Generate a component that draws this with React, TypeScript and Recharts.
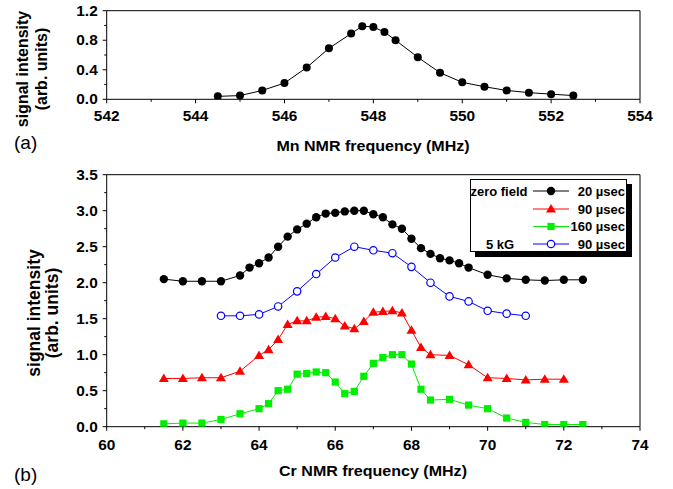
import { LineChart, Line, XAxis, YAxis } from "recharts";

const FONT = "'Liberation Sans', Arial, sans-serif";

// (a) Mn NMR spectrum
const mnFreq = [544.5, 545, 545.5, 546, 546.5, 547, 547.5, 547.75, 548, 548.25, 548.5, 549, 549.5, 550, 550.5, 551, 551.5, 552, 552.5];
const mnSignal = [0.04, 0.05, 0.12, 0.22, 0.43, 0.69, 0.89, 0.99, 0.98, 0.91, 0.8, 0.57, 0.36, 0.23, 0.17, 0.12, 0.09, 0.07, 0.05];

// (b) Cr NMR spectra
const crFreqZero20 = [61.5, 62, 62.5, 63, 63.5, 63.75, 64, 64.25, 64.5, 64.75, 65, 65.25, 65.5, 65.75, 66, 66.25, 66.5, 66.75, 67, 67.25, 67.5, 67.75, 68, 68.25, 68.5, 68.75, 69, 69.25, 69.5, 70, 70.5, 71, 71.5, 72, 72.5];
const crZero20 = [2.05, 2.02, 2.02, 2.02, 2.1, 2.21, 2.27, 2.35, 2.5, 2.64, 2.74, 2.82, 2.91, 2.96, 2.97, 2.99, 3.0, 3.0, 2.95, 2.91, 2.81, 2.75, 2.61, 2.48, 2.4, 2.34, 2.31, 2.27, 2.21, 2.11, 2.06, 2.04, 2.03, 2.04, 2.04];

const crFreqZero90 = [61.5, 62, 62.5, 63, 63.5, 64, 64.25, 64.5, 64.75, 65, 65.25, 65.5, 65.75, 66, 66.25, 66.5, 66.75, 67, 67.25, 67.5, 67.75, 68, 68.25, 68.5, 69, 69.5, 70, 70.5, 71, 71.5, 72];
const crZero90 = [0.67, 0.67, 0.68, 0.68, 0.77, 0.99, 1.07, 1.21, 1.42, 1.47, 1.47, 1.52, 1.53, 1.5, 1.4, 1.36, 1.46, 1.59, 1.6, 1.61, 1.58, 1.34, 1.1, 1.0, 0.99, 0.86, 0.68, 0.67, 0.65, 0.66, 0.66];

const crFreqZero160 = [61.5, 62, 62.5, 63, 63.5, 64, 64.25, 64.5, 64.75, 65, 65.25, 65.5, 65.75, 66, 66.25, 66.5, 66.75, 67, 67.25, 67.5, 67.75, 68, 68.25, 68.5, 69, 69.5, 70, 70.5, 71, 71.5, 72, 72.5];
const crZero160 = [0.04, 0.05, 0.05, 0.1, 0.18, 0.25, 0.32, 0.5, 0.52, 0.73, 0.74, 0.76, 0.75, 0.62, 0.46, 0.49, 0.7, 0.88, 0.96, 1.0, 1.0, 0.87, 0.52, 0.37, 0.38, 0.3, 0.25, 0.12, 0.06, 0.03, 0.03, 0.03];

const crFreq5kG90 = [63, 63.5, 64, 64.5, 65, 65.5, 66, 66.5, 67, 67.5, 68, 68.5, 69, 69.5, 70, 70.5, 71];
const cr5kG90 = [1.54, 1.54, 1.56, 1.67, 1.88, 2.12, 2.35, 2.5, 2.45, 2.41, 2.22, 2.0, 1.81, 1.74, 1.61, 1.57, 1.54];

const mnXTicks = [542, 543, 544, 545, 546, 547, 548, 549, 550, 551, 552, 553, 554];
const mnYTicks = [0, 0.2, 0.4, 0.6, 0.8, 1.0, 1.2];
const crXTicks = [60, 61, 62, 63, 64, 65, 66, 67, 68, 69, 70, 71, 72, 73, 74];
const crYTicks = [0, 0.25, 0.5, 0.75, 1.0, 1.25, 1.5, 1.75, 2.0, 2.25, 2.5, 2.75, 3.0, 3.25, 3.5];

const zip = (xs: number[], ys: number[]) => xs.map((f, i) => ({ f, v: ys[i] }));

const isMult = (v: number, step: number) =>
  Math.abs(v / step - Math.round(v / step)) < 1e-6;

// the original lettering is a bit wider than Liberation Sans
const SX = 1.1;

// draws its own tick mark (outward), label only on major ticks
const makeTick =
  (side: "bottom" | "top" | "left" | "right", step: number, label: boolean, off: number, digits: number) =>
  (p: any) => {
    const v = p.payload.value;
    const major = isMult(v, step);
    const len = major ? 4 : 2.5;
    const { x, y } = p;
    let l;
    if (side === "bottom") l = <line x1={x} x2={x} y1={y} y2={y + len} stroke="#000" />;
    else if (side === "top") l = <line x1={x} x2={x} y1={y} y2={y - len} stroke="#000" />;
    else if (side === "left") l = <line x1={x} x2={x - len} y1={y} y2={y} stroke="#000" />;
    else l = <line x1={x} x2={x + len} y1={y} y2={y} stroke="#000" />;
    let t = null;
    if (label && major) {
      const bottom = side === "bottom";
      const tx = bottom ? x : x - off;
      const ty = bottom ? y + off : y + 5;
      t = (
        <text
          transform={`translate(${tx},${ty}) scale(${SX},1)`}
          textAnchor={bottom ? "middle" : "end"}
          fontFamily={FONT}
          fontWeight="bold"
          fontSize={14}
          fill="#000"
        >
          {v.toFixed(digits)}
        </text>
      );
    }
    return (
      <g>
        {l}
        {t}
      </g>
    );
  };

const blackDot = (r: number) => (p: any) => <circle key={p.index} cx={p.cx} cy={p.cy} r={r} fill="#000" />;
const openDot = (p: any) => (
  <circle key={p.index} cx={p.cx} cy={p.cy} r={3.7} fill="#fff" stroke="#0000ff" strokeWidth={1.2} />
);
const triDot = (p: any) => (
  <polygon
    key={p.index}
    points={`${p.cx - 5},${p.cy + 3.5} ${p.cx + 5},${p.cy + 3.5} ${p.cx},${p.cy - 5}`}
    fill="#ff0000"
  />
);
const squareDot = (p: any) => <rect key={p.index} x={p.cx - 3.6} y={p.cy - 3.6} width={7.2} height={7.2} fill="#00ee00" />;

// axes need a non-zero size to be drawn, so they get 1px and the margins make up for it
const axisCommon = { tickSize: 0, tickMargin: 0, tickLine: false, interval: 0 as const, stroke: "#000" };

export default function App() {
  return (
    <div style={{ position: "absolute", left: 0, top: 0, width: 673, height: 489, background: "#fff" }}>
      <div style={{ position: "absolute", left: 0, top: 0 }}>
        <LineChart width={673} height={160} margin={{ top: 9.7, right: 32, bottom: 59.7, left: 105.7 }}>
          <XAxis
            {...axisCommon}
            dataKey="f"
            type="number"
            domain={[542, 554]}
            ticks={mnXTicks}
            height={1}
            allowDataOverflow
            tick={makeTick("bottom", 2, true, 22, 0)}
          />
          <XAxis
            {...axisCommon}
            xAxisId="top"
            orientation="top"
            type="number"
            domain={[542, 554]}
            ticks={mnXTicks}
            height={1}
            tick={makeTick("top", 2, false, 0, 0)}
          />
          <YAxis
            {...axisCommon}
            type="number"
            domain={[0, 1.2]}
            ticks={mnYTicks}
            width={1}
            allowDataOverflow
            tick={makeTick("left", 0.4, true, 9, 1)}
          />
          <YAxis
            {...axisCommon}
            yAxisId="right"
            orientation="right"
            type="number"
            domain={[0, 1.2]}
            ticks={mnYTicks}
            width={1}
            tick={makeTick("right", 0.4, false, 0, 1)}
          />
          <Line
            data={zip(mnFreq, mnSignal)}
            dataKey="v"
            type="linear"
            stroke="#000"
            strokeWidth={1}
            dot={blackDot(4)}
            activeDot={false}
            isAnimationActive={false}
          />
        </LineChart>
      </div>
      <div style={{ position: "absolute", left: 0, top: 160 }}>
        <LineChart width={673} height={329} margin={{ top: 13.7, right: 32, bottom: 61.3, left: 105.7 }}>
          <XAxis
            {...axisCommon}
            dataKey="f"
            type="number"
            domain={[60, 74]}
            ticks={crXTicks}
            height={1}
            allowDataOverflow
            tick={makeTick("bottom", 2, true, 23.5, 0)}
          />
          <XAxis
            {...axisCommon}
            xAxisId="top"
            orientation="top"
            type="number"
            domain={[60, 74]}
            ticks={crXTicks}
            height={1}
            tick={makeTick("top", 2, false, 0, 0)}
          />
          <YAxis
            {...axisCommon}
            type="number"
            domain={[0, 3.5]}
            ticks={crYTicks}
            width={1}
            allowDataOverflow
            tick={makeTick("left", 0.5, true, 9, 1)}
          />
          <YAxis
            {...axisCommon}
            yAxisId="right"
            orientation="right"
            type="number"
            domain={[0, 3.5]}
            ticks={crYTicks}
            width={1}
            tick={makeTick("right", 0.5, false, 0, 1)}
          />
          <Line data={zip(crFreqZero20, crZero20)} dataKey="v" stroke="#000" strokeWidth={1} dot={blackDot(4.2)} activeDot={false} isAnimationActive={false} />
          <Line data={zip(crFreq5kG90, cr5kG90)} dataKey="v" stroke="#0000ff" strokeWidth={1} dot={openDot} activeDot={false} isAnimationActive={false} />
          <Line data={zip(crFreqZero90, crZero90)} dataKey="v" stroke="#ff0000" strokeWidth={1} dot={triDot} activeDot={false} isAnimationActive={false} />
          <Line data={zip(crFreqZero160, crZero160)} dataKey="v" stroke="#00ee00" strokeWidth={1} dot={squareDot} activeDot={false} isAnimationActive={false} />
        </LineChart>
      </div>
      <svg width={673} height={489} style={{ position: "absolute", left: 0, top: 0, pointerEvents: "none" }} fontFamily={FONT}>
        {/* axis titles */}
        <g fontWeight="bold" fill="#000" textAnchor="middle">
          <text transform="translate(22.5,69) rotate(-90)" dominantBaseline="central" fontSize={16}>signal intensity</text>
          <text transform="translate(41.5,69) rotate(-90)" dominantBaseline="central" fontSize={16}>(arb. units)</text>
          <text transform="translate(34,313) rotate(-90)" dominantBaseline="central" fontSize={17.5}>signal intensity</text>
          <text transform="translate(51.5,313) rotate(-90)" dominantBaseline="central" fontSize={17.5}>(arb. units)</text>
          <text transform="translate(373,151) scale(1.07,1)" fontSize={15}>Mn NMR frequency (MHz)</text>
          <text transform="translate(373,476) scale(1.07,1)" fontSize={15}>Cr NMR frequency (MHz)</text>
        </g>
        <text x={14} y={149} fontSize={19} fill="#000">(a)</text>
        <text x={14} y={481} fontSize={19} fill="#000">(b)</text>
        {/* legend */}
        <rect x={475} y={184} width={157} height={73} fill="#000" />
        <rect x={470.5} y={179.5} width={156} height={72} fill="#fff" stroke="#000" strokeWidth={1} />
        <g fontWeight="bold" fontSize={13} fill="#000">
          <text x={499} y={195.5} textAnchor="middle">zero field</text>
          <text x={500} y={248.5} textAnchor="middle">5 kG</text>
          <text x={625} y={195.5} textAnchor="end">20 µsec</text>
          <text x={625} y={213.5} textAnchor="end">90 µsec</text>
          <text x={625} y={231} textAnchor="end">160 µsec</text>
          <text x={625} y={248.5} textAnchor="end">90 µsec</text>
        </g>
        <line x1={533} x2={569} y1={191} y2={191} stroke="#000" />
        <circle cx={551} cy={191} r={4.2} fill="#000" />
        <line x1={533} x2={569} y1={209} y2={209} stroke="#ff0000" />
        <polygon points="546,212.5 556,212.5 551,204" fill="#ff0000" />
        <line x1={533} x2={569} y1={226.5} y2={226.5} stroke="#00ee00" />
        <rect x={547.4} y={222.9} width={7.2} height={7.2} fill="#00ee00" />
        <line x1={533} x2={569} y1={244} y2={244} stroke="#0000ff" />
        <circle cx={551} cy={244} r={3.7} fill="#fff" stroke="#0000ff" strokeWidth={1.2} />
      </svg>
    </div>
  );
}
